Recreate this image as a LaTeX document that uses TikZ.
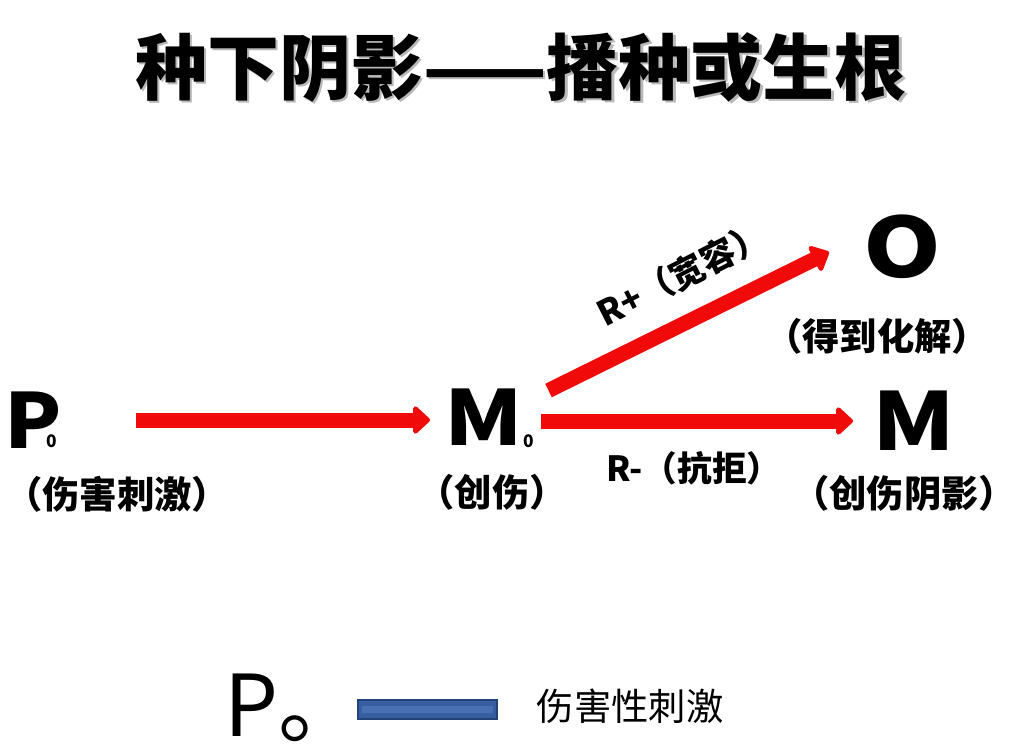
\documentclass[tikz,border=0pt]{standalone}
\usepackage{fontspec}
\setmainfont{Noto Sans CJK SC}
\usetikzlibrary{arrows.meta}
\definecolor{arrowred}{RGB}{240,10,10}
\definecolor{barblue}{RGB}{55,94,160}
\definecolor{barline}{RGB}{35,66,120}
\definecolor{barlight}{RGB}{72,112,178}
\tikzset{
  bigarrow/.style={draw=arrowred, line width=11.25pt, line cap=butt,
    -{Triangle[length=13.5pt,width=24pt,round]}},
  bigletter/.style={font=\fontsize{57}{57}\selectfont\bfseries, inner sep=0pt, anchor=base},
  subzero/.style={font=\fontsize{13}{13}\selectfont\bfseries, inner sep=0pt, anchor=base},
  cjklabel/.style={font=\fontsize{28}{28}\selectfont\bfseries, inner sep=0pt},
  rlabel/.style={font=\fontsize{26}{26}\selectfont\bfseries, inner sep=0pt},
  titlefont/.style={font=\fontsize{54}{54}\selectfont\bfseries, inner sep=0pt},
}
\begin{document}
\begin{tikzpicture}[x=0.75pt,y=-0.75pt]
\fill[white] (0,0) rectangle (1016,750);
\useasboundingbox (0,0) rectangle (1016,750);
% title with shadow
\node[titlefont, text=black!28] (titleshadow) at (523.5,69.5) {种下阴影——播种或生根};
\node[titlefont] (title) at (521,67) {种下阴影——播种或生根};
% main letters
\node[bigletter, xscale=1.1] (P) at (33,448) {P};
\node[subzero] (Psub) at (52,447) {0};
\node[bigletter, xscale=1.18] (M0) at (484,445) {M};
\node[subzero] (M0sub) at (529,447) {0};
\node[bigletter, xscale=1.2, font=\fontsize{62}{62}\selectfont\bfseries] (O) at (902,277) {O};
\node[bigletter, xscale=1.18, font=\fontsize{60}{60}\selectfont\bfseries] (M) at (914,450) {M};
% labels
\node[cjklabel] (Plab) at (117,494) {（伤害刺激）};
\node[cjklabel] (M0lab) at (492,492) {（创伤）};
\node[cjklabel] (Olab) at (877,336) {（得到化解）};
\node[cjklabel] (Mlab) at (904,493) {（创伤阴影）};
% arrows
\coordinate (a1s) at (136,420);
\coordinate (a1e) at (430,420);
\coordinate (a2s) at (548.5,390.5);
\coordinate (a2e) at (829,252);
\coordinate (a3s) at (541,421);
\coordinate (a3e) at (853,421);
\draw[bigarrow] (a1s) -- (a1e);
\draw[bigarrow] (a2s) -- (a2e);
\draw[bigarrow] (a3s) -- (a3e);
\node[rlabel, rotate=27] (rplus) at (682,274) {R+（宽容）};
\node[rlabel] (rminus) at (694,468) {R-（抗拒）};
% legend
\node[font=\fontsize{64}{64}\selectfont, inner sep=0pt, anchor=base west] (legP) at (224,736) {P。};
\draw[draw=barline, fill=barblue, line width=1.2pt] (358,700) rectangle (497,719);
\fill[barlight] (362,706) rectangle (493,713);
\node[font=\fontsize{28}{28}\selectfont, inner sep=0pt] (legtext) at (630,706) {伤害性刺激};
\end{tikzpicture}
\end{document}
